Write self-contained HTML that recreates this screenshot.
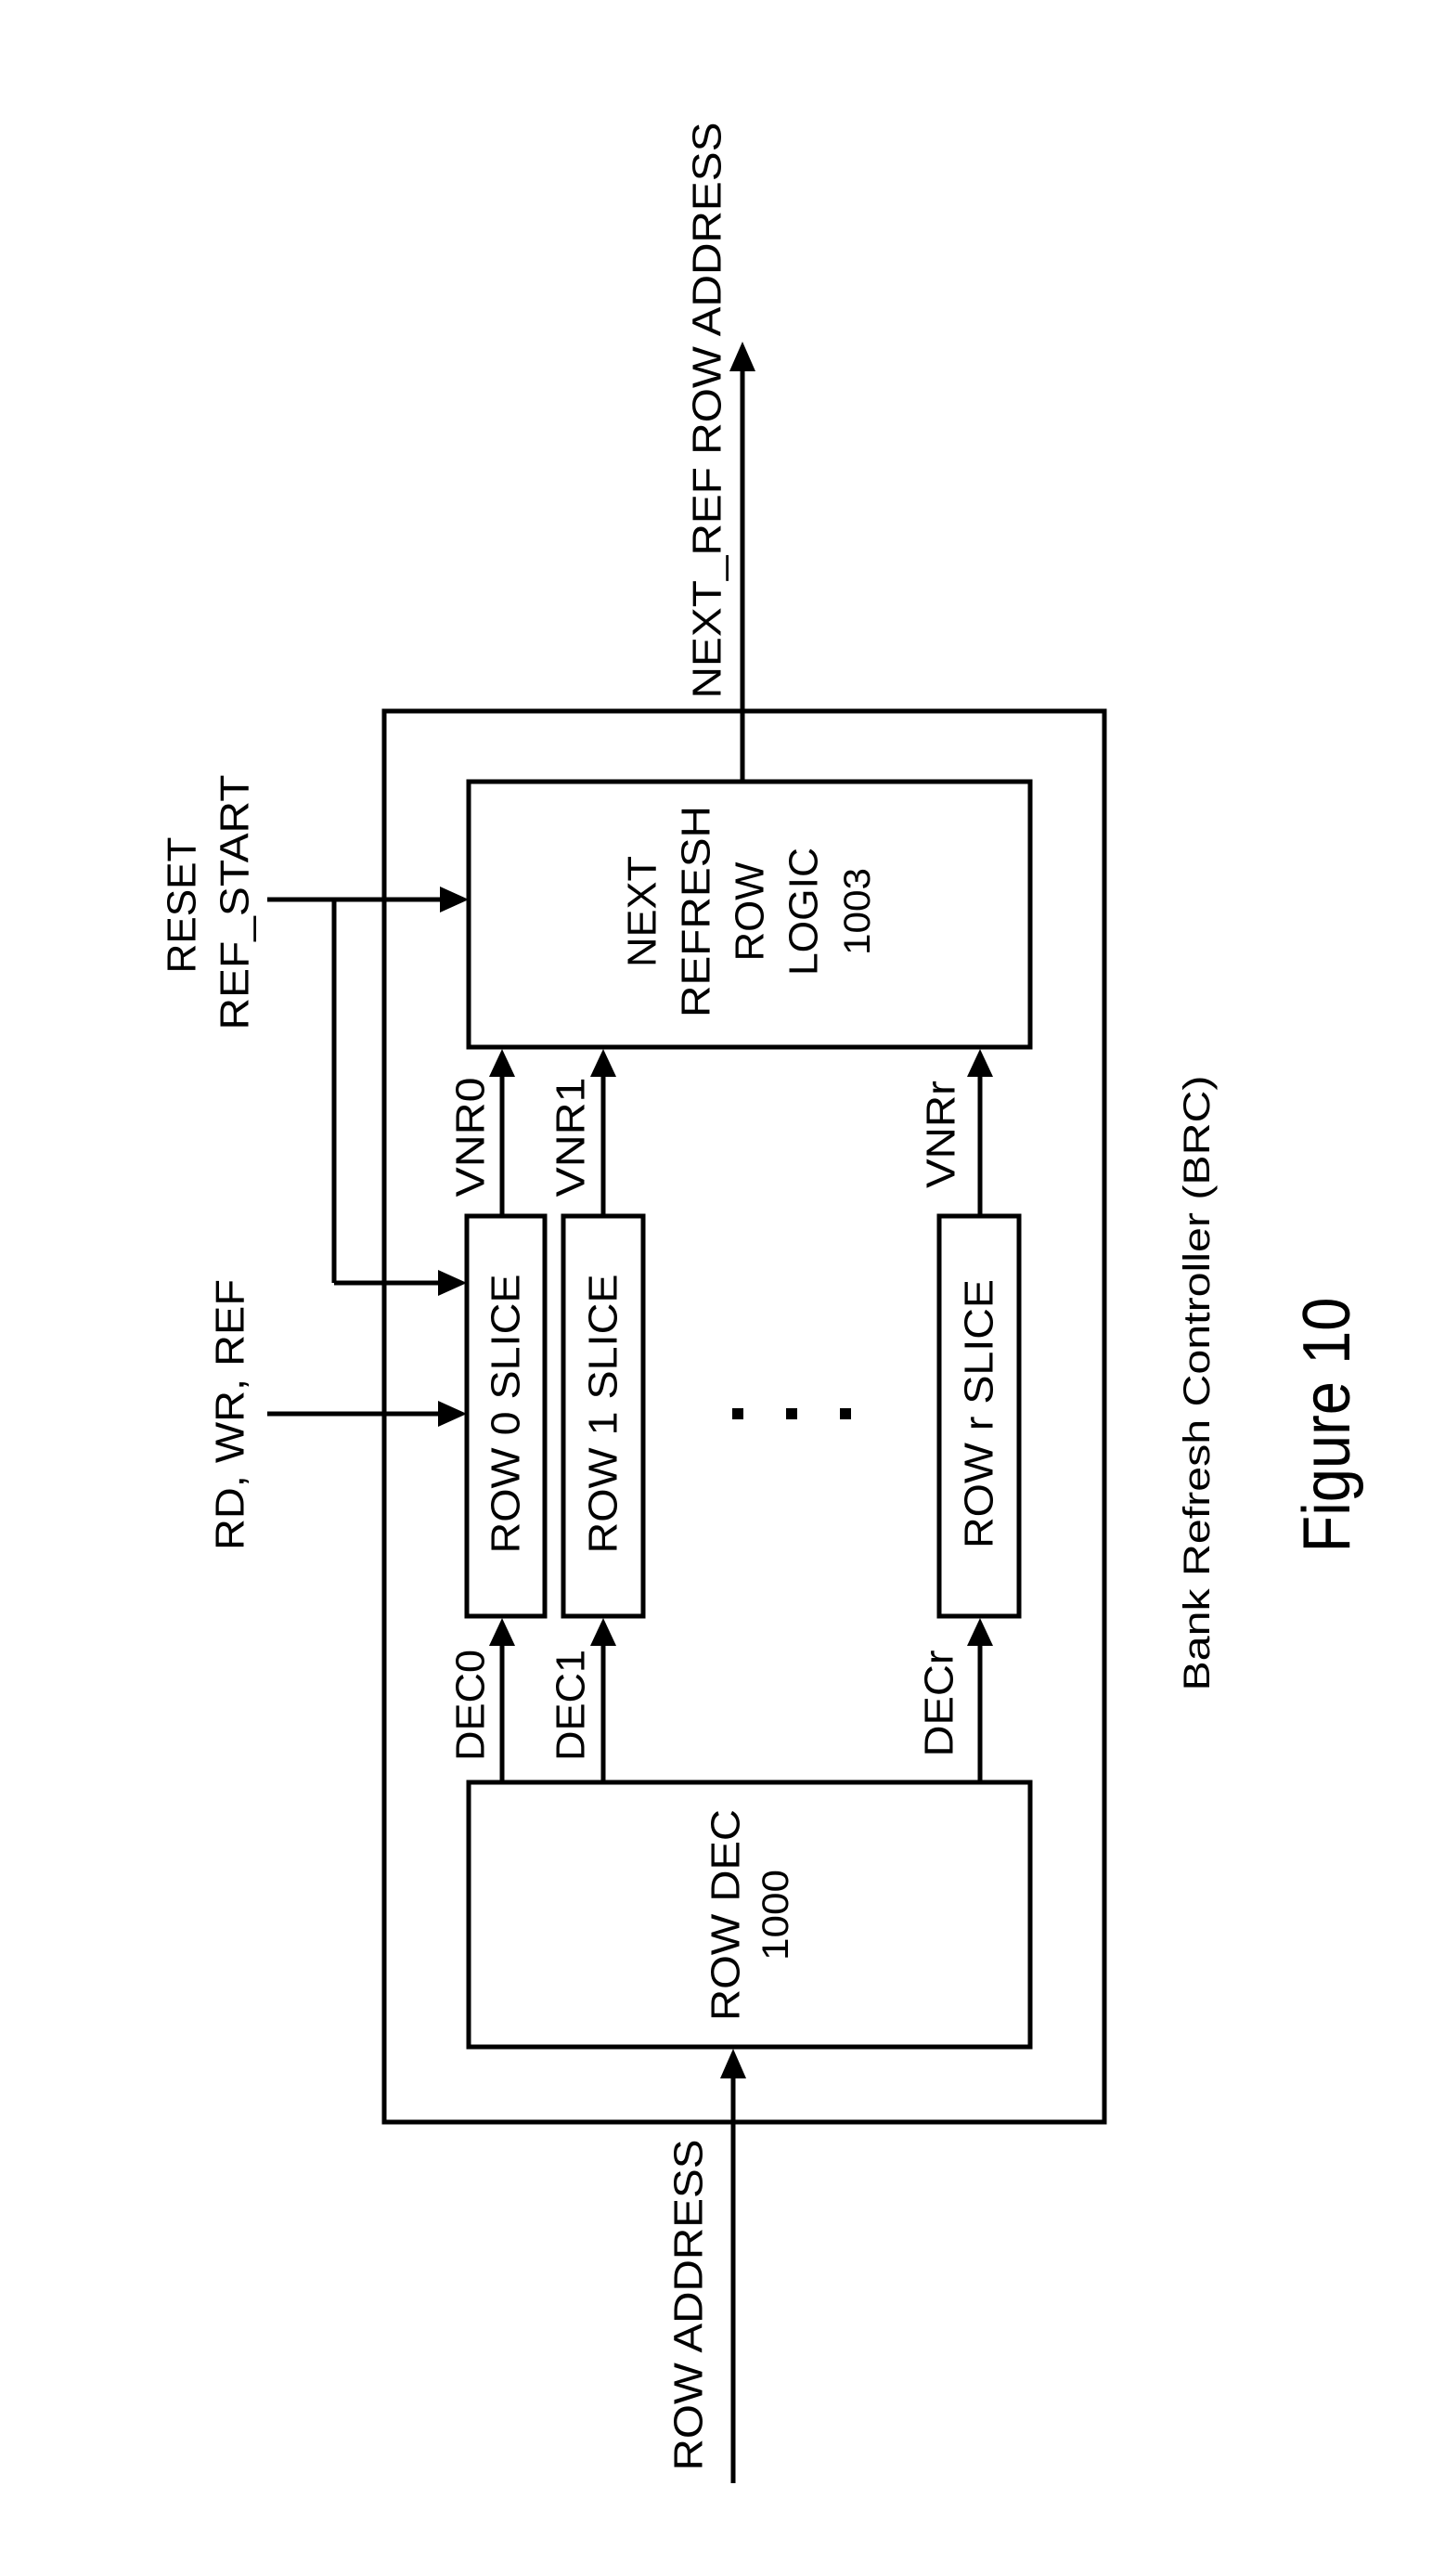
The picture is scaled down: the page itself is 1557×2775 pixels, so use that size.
<!DOCTYPE html>
<html><head><meta charset="utf-8"><style>
html,body{margin:0;padding:0;background:#fff;}
svg{display:block;}
text{font-family:"Liberation Sans",Arial,sans-serif;fill:#000;}
</style></head><body>
<svg width="1557" height="2775" viewBox="0 0 1557 2775" xmlns="http://www.w3.org/2000/svg">
<g fill="none" stroke="#000" stroke-width="5">
<rect x="414" y="766" width="776" height="1520"/>
<rect x="505" y="842" width="605" height="286"/>
<rect x="505" y="1920" width="605" height="285"/>
<rect x="503" y="1310" width="84" height="431"/>
<rect x="607" y="1310" width="86" height="431"/>
<rect x="1012" y="1310" width="86" height="431"/>
<line x1="800" y1="842" x2="800" y2="395"/>
<line x1="790" y1="2675" x2="790" y2="2235"/>
<line x1="288" y1="969" x2="478" y2="969"/>
<line x1="360" y1="969" x2="360" y2="1382"/>
<line x1="360" y1="1382" x2="476" y2="1382"/>
<line x1="288" y1="1523" x2="476" y2="1523"/>
<line x1="541" y1="1310" x2="541" y2="1155"/>
<line x1="650" y1="1310" x2="650" y2="1155"/>
<line x1="1056" y1="1310" x2="1056" y2="1155"/>
<line x1="541" y1="1920" x2="541" y2="1768"/>
<line x1="650" y1="1920" x2="650" y2="1768"/>
<line x1="1056" y1="1920" x2="1056" y2="1768"/>
</g>
<g fill="#000">
<polygon points="800,368 786,400 814,400"/>
<polygon points="790,2207 776,2239 804,2239"/>
<polygon points="505,969 474,955 474,983"/>
<polygon points="503,1382 472,1368 472,1396"/>
<polygon points="503,1523 472,1509 472,1537"/>
<polygon points="541,1130 527,1160 555,1160"/>
<polygon points="650,1130 636,1160 664,1160"/>
<polygon points="1056,1130 1042,1160 1070,1160"/>
<polygon points="541,1743 527,1773 555,1773"/>
<polygon points="650,1743 636,1773 664,1773"/>
<polygon points="1056,1743 1042,1773 1070,1773"/>
<rect x="789" y="1517" width="12" height="12"/>
<rect x="847" y="1517" width="12" height="12"/>
<rect x="905" y="1517" width="12" height="12"/>
</g>
<g font-size="44" text-anchor="middle" dominant-baseline="central">
<text transform="translate(762,442) rotate(-90)" textLength="621" lengthAdjust="spacingAndGlyphs">NEXT_REF ROW ADDRESS</text>
<text transform="translate(196,975) rotate(-90)" textLength="147" lengthAdjust="spacingAndGlyphs">RESET</text>
<text transform="translate(253,972) rotate(-90)" textLength="275" lengthAdjust="spacingAndGlyphs">REF_START</text>
<text transform="translate(248,1524) rotate(-90)" textLength="292" lengthAdjust="spacingAndGlyphs">RD, WR, REF</text>
<text transform="translate(742,2483) rotate(-90)" textLength="357" lengthAdjust="spacingAndGlyphs">ROW ADDRESS</text>
<text transform="translate(507,1225) rotate(-90)" textLength="129" lengthAdjust="spacingAndGlyphs">VNR0</text>
<text transform="translate(615,1225) rotate(-90)" textLength="129" lengthAdjust="spacingAndGlyphs">VNR1</text>
<text transform="translate(1014,1222) rotate(-90)" textLength="116" lengthAdjust="spacingAndGlyphs">VNRr</text>
<text transform="translate(507,1837) rotate(-90)" textLength="120" lengthAdjust="spacingAndGlyphs">DEC0</text>
<text transform="translate(615,1837) rotate(-90)" textLength="120" lengthAdjust="spacingAndGlyphs">DEC1</text>
<text transform="translate(1012,1835) rotate(-90)" textLength="115" lengthAdjust="spacingAndGlyphs">DECr</text>
<text transform="translate(545,1523) rotate(-90)" textLength="301" lengthAdjust="spacingAndGlyphs">ROW 0 SLICE</text>
<text transform="translate(650,1523) rotate(-90)" textLength="301" lengthAdjust="spacingAndGlyphs">ROW 1 SLICE</text>
<text transform="translate(1055,1523) rotate(-90)" textLength="290" lengthAdjust="spacingAndGlyphs">ROW r SLICE</text>
<text transform="translate(692,982) rotate(-90)" textLength="120" lengthAdjust="spacingAndGlyphs">NEXT</text>
<text transform="translate(750,982) rotate(-90)" textLength="228" lengthAdjust="spacingAndGlyphs">REFRESH</text>
<text transform="translate(808,982) rotate(-90)" textLength="107" lengthAdjust="spacingAndGlyphs">ROW</text>
<text transform="translate(866,982) rotate(-90)" textLength="138" lengthAdjust="spacingAndGlyphs">LOGIC</text>
<text transform="translate(782,2063) rotate(-90)" textLength="228" lengthAdjust="spacingAndGlyphs">ROW DEC</text>
</g>
<g font-size="40" text-anchor="middle" dominant-baseline="central">
<text transform="translate(924,982) rotate(-90)" textLength="94" lengthAdjust="spacingAndGlyphs">1003</text>
<text transform="translate(836,2063) rotate(-90)" textLength="98" lengthAdjust="spacingAndGlyphs">1000</text>
<text transform="translate(1290,1490) rotate(-90)" textLength="663" lengthAdjust="spacingAndGlyphs">Bank Refresh Controller (BRC)</text>
</g>
<text font-size="72" text-anchor="middle" dominant-baseline="central" transform="translate(1430,1535) rotate(-90)" textLength="275" lengthAdjust="spacingAndGlyphs">Figure 10</text>
</svg>
</body></html>
